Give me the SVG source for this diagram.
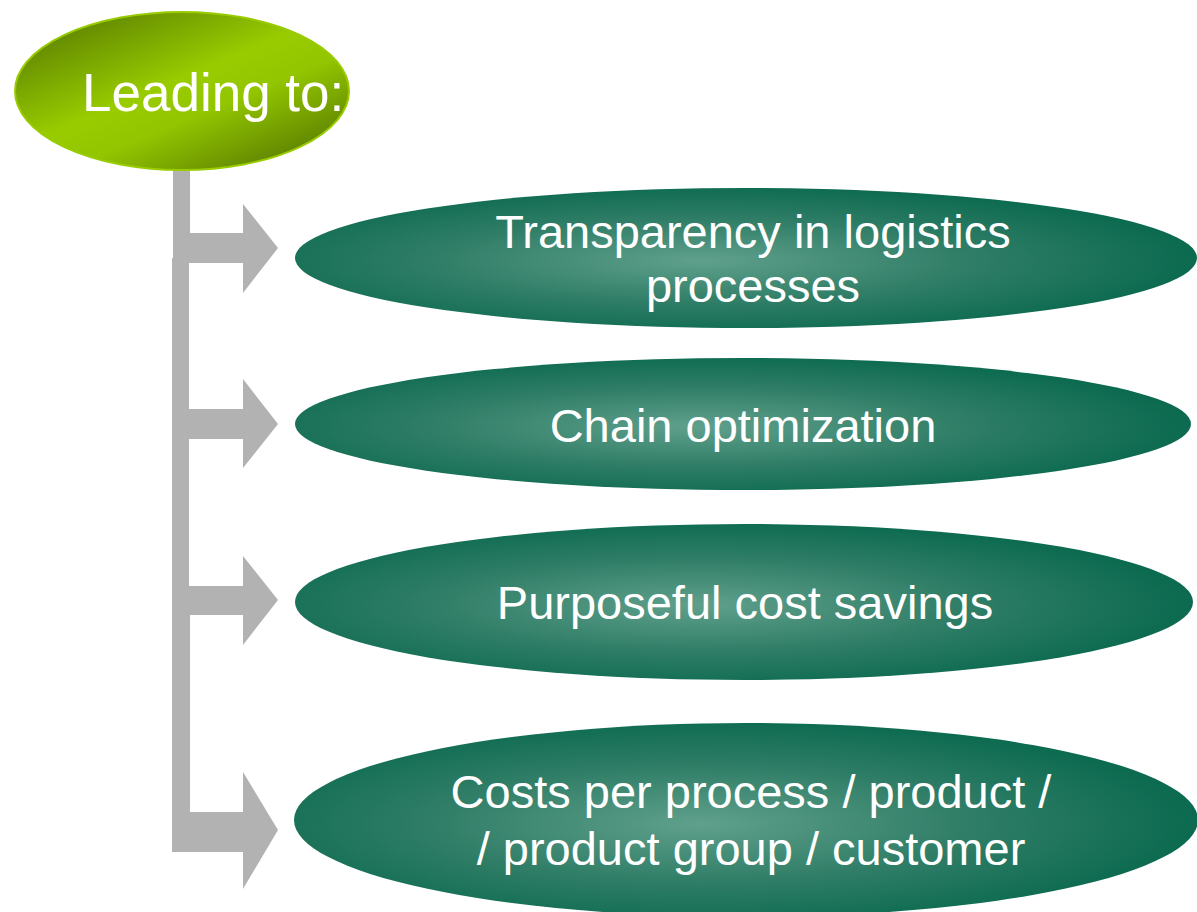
<svg xmlns="http://www.w3.org/2000/svg" width="1197" height="912" viewBox="0 0 1197 912">
  <defs>
    <linearGradient id="gGreen" x1="0.1" y1="0.05" x2="0.9" y2="0.95">
      <stop offset="0" stop-color="#5a7f00"/>
      <stop offset="0.45" stop-color="#99cc00"/>
      <stop offset="0.62" stop-color="#93c500"/>
      <stop offset="1" stop-color="#567900"/>
    </linearGradient>
    <radialGradient id="gTeal" cx="0.45" cy="0.52" r="0.55">
      <stop offset="0" stop-color="#5fa08c"/>
      <stop offset="0.55" stop-color="#2f7d66"/>
      <stop offset="1" stop-color="#0b6a4f"/>
    </radialGradient>
    <style>
      .conn { fill: #b2b2b2; stroke: none; }
      .teal { fill: url(#gTeal); stroke: none; }
      .lbl { font-family: "Liberation Sans", Arial, sans-serif; font-size: 47px; fill: #ffffff; text-anchor: middle; }
    </style>
  </defs>

  <g id="connectors">
    <path class="conn" d="M173,170 L190,170 L190,233 L243,233 L243,204 L278,248 L243,293 L243,263 L173,263 Z"/>
    <path class="conn" d="M172,258 L189,258 L189,409 L243,409 L243,379 L278,424 L243,468 L243,439 L172,439 Z"/>
    <path class="conn" d="M172,435 L189,435 L189,586 L243,586 L243,556 L278,600 L243,645 L243,615 L172,615 Z"/>
    <path class="conn" d="M172,610 L190,610 L190,812 L243,812 L243,772 L278,830 L243,889 L243,852 L172,852 Z"/>
  </g>

  <g id="node-leading">
    <ellipse cx="182" cy="91" rx="167" ry="79" fill="url(#gGreen)" stroke="#99cc00" stroke-width="2"/>
    <text x="82" y="111" font-family="Liberation Sans, Arial, sans-serif" font-size="53" fill="#ffffff">Leading to:</text>
  </g>

  <g id="node-transparency">
    <ellipse class="teal" cx="746" cy="258" rx="451" ry="70"/>
    <text class="lbl" x="753" y="248">Transparency in logistics</text>
    <text class="lbl" x="753" y="302">processes</text>
  </g>

  <g id="node-chain">
    <ellipse class="teal" cx="743" cy="424" rx="448" ry="66"/>
    <text class="lbl" x="743" y="442">Chain optimization</text>
  </g>

  <g id="node-savings">
    <ellipse class="teal" cx="744" cy="602" rx="449" ry="78"/>
    <text class="lbl" x="745" y="619">Purposeful cost savings</text>
  </g>

  <g id="node-costs">
    <ellipse class="teal" cx="746" cy="820" rx="452" ry="97"/>
    <text class="lbl" x="751" y="808">Costs per process / product /</text>
    <text class="lbl" x="751" y="865">/ product group / customer</text>
  </g>
</svg>
